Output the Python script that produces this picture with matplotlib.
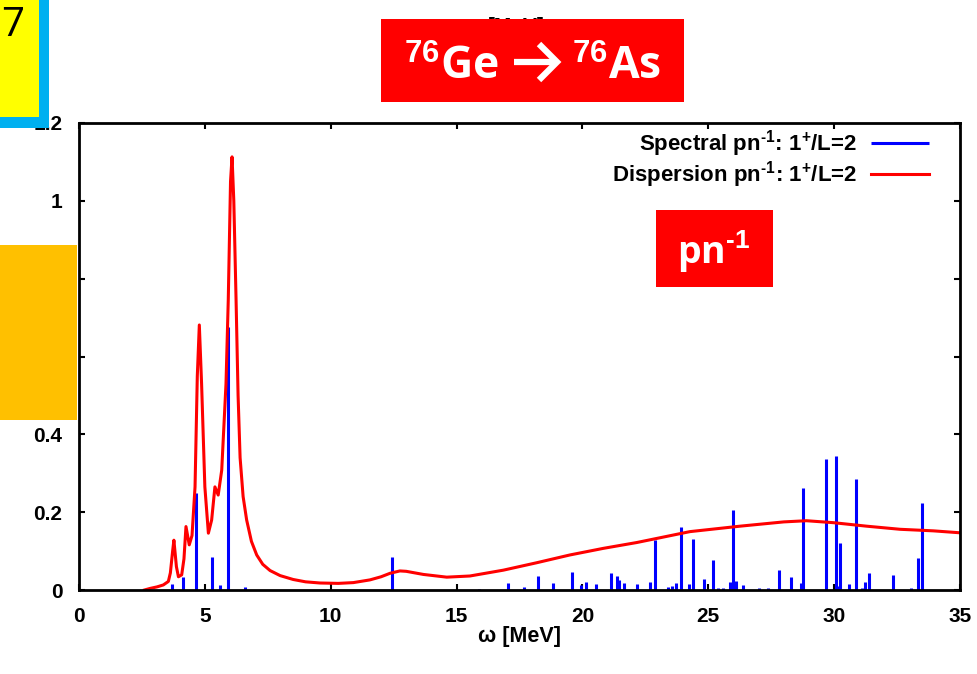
import matplotlib
matplotlib.use("Agg")
import matplotlib.pyplot as plt
from matplotlib.patches import Rectangle
from matplotlib.lines import Line2D

plt.rcParams['font.family'] = ['Liberation Sans', 'DejaVu Sans']
plt.rcParams['font.weight'] = 'bold'
plt.rcParams['mathtext.fontset'] = 'custom'
plt.rcParams['mathtext.rm'] = 'Liberation Sans:bold'
plt.rcParams['mathtext.it'] = 'Liberation Sans:bold'
plt.rcParams['mathtext.bf'] = 'Liberation Sans:bold'

# spectral strengths (discrete states), omega in MeV
spec_x = [3.68, 4.15, 4.63, 5.27, 5.59, 5.91, 6.58, 12.42, 15.91, 17.03, 17.67, 18.25,
          18.82, 19.59, 19.96, 20.13, 20.54, 21.12, 21.36, 21.44, 21.67, 22.16, 22.69,
          22.87, 23.41, 23.57, 23.72, 23.90, 24.25, 24.38, 24.84, 25.20, 25.37, 25.57,
          25.86, 25.97, 26.10, 26.37, 27.03, 27.39, 27.81, 28.29, 28.70, 28.75, 29.69,
          30.06, 30.17, 30.23, 30.59, 30.87, 31.10, 31.23, 31.40, 32.34, 33.06, 33.35,
          33.51]
spec_y = [0.015, 0.034, 0.25, 0.086, 0.013, 0.677, 0.008, 0.086, 0.003, 0.017, 0.008, 0.037,
          0.017, 0.047, 0.012, 0.021, 0.015, 0.043, 0.037, 0.026, 0.017, 0.015, 0.021,
          0.128, 0.008, 0.011, 0.019, 0.161, 0.016, 0.132, 0.027, 0.077, 0.004, 0.005,
          0.020, 0.206, 0.022, 0.012, 0.005, 0.005, 0.051, 0.034, 0.017, 0.261, 0.336,
          0.345, 0.010, 0.120, 0.015, 0.286, 0.005, 0.020, 0.043, 0.039, 0.005, 0.081,
          0.223]

# dispersion curve
disp_x = [2.6, 2.82, 3.1, 3.35, 3.55, 3.63, 3.72, 3.77, 3.87, 3.95, 4.08, 4.17, 4.25,
          4.38, 4.49, 4.61, 4.70, 4.78, 4.87, 5.0, 5.14, 5.27, 5.40, 5.53, 5.67, 5.84,
          5.93, 6.02, 6.08, 6.15, 6.24, 6.32, 6.40, 6.52, 6.66, 6.85, 7.06, 7.3, 7.59,
          7.99, 8.51, 9.0, 9.57, 10.3, 10.9, 11.56, 12.0, 12.36, 12.75, 13.0, 13.68,
          14.61, 15.53, 16.86, 18.18, 19.5, 20.83, 22.16, 24.27, 26.26, 28.0, 28.9, 29.97,
          31.29, 32.62, 33.94, 35.0]
disp_y = [0.0, 0.004, 0.008, 0.013, 0.022, 0.044, 0.1, 0.128, 0.06, 0.034, 0.039, 0.08,
          0.163, 0.116, 0.14, 0.265, 0.55, 0.681, 0.53, 0.265, 0.146, 0.18, 0.265, 0.244,
          0.308, 0.53, 0.745, 1.05, 1.113, 1.0, 0.745, 0.5, 0.34, 0.24, 0.18, 0.125,
          0.09, 0.066, 0.05, 0.037, 0.027, 0.021, 0.018, 0.017, 0.019, 0.026, 0.034,
          0.043, 0.049, 0.048, 0.04, 0.033, 0.036, 0.051, 0.07, 0.09, 0.107, 0.122, 0.15,
          0.164, 0.175, 0.178, 0.173, 0.164, 0.156, 0.152, 0.147]

xticks = [0, 5, 10, 15, 20, 25, 30, 35]
yticks = [0, 0.2, 0.4, 0.6, 0.8, 1, 1.2]
yticklabels = ['0', '0.2', '0.4', '0.6', '0.8', '1', '1.2']

W, H = 977, 674
fig = plt.figure(figsize=(W / 100, H / 100), dpi=100)
ax = fig.add_axes([79 / W, 1 - 590 / H, (960 - 79) / W, (590 - 123) / H])

ax.vlines(spec_x, 0, spec_y, colors='#0000ff', linewidth=2.2,
          label=r'Spectral pn$^{\text{-1}}$: 1$^{+}$/L=2')
ax.plot(disp_x, disp_y, color='#ff0000', linewidth=2.2,
        label=r'Dispersion pn$^{\text{-1}}$: 1$^{+}$/L=2')

ax.set_xlim(0, 35)
ax.set_ylim(0, 1.2)
ax.set_xticks(xticks)
ax.set_yticks(yticks)
ax.set_yticklabels(yticklabels)
ax.tick_params(direction='in', length=4.5, width=1.5, top=True, right=True,
               labelsize=15)
ax.tick_params(axis='x', pad=12)
ax.tick_params(axis='y', pad=12)
for s in ax.spines.values():
    s.set_linewidth(2)
ax.set_xlabel('ω [MeV]', fontsize=15.5, fontweight='bold', labelpad=0)

ax.legend(loc='upper right', bbox_to_anchor=(0.987, 1.032), frameon=False,
          markerfirst=False, fontsize=16, handlelength=2.6, handletextpad=0.63,
          labelspacing=0.0)


def px_rect(x0, y0, x1, y1, color, z=5):
    r = Rectangle((x0 / W, 1 - y1 / H), (x1 - x0) / W, (y1 - y0) / H,
                  transform=fig.transFigure, facecolor=color, edgecolor='none',
                  zorder=z)
    fig.add_artist(r)


# text of a plot above, mostly hidden behind the title box
fig.text(516 / W, 1 - 27 / H, '[MeV]', fontsize=15, fontweight='bold',
         ha='center', va='center', zorder=2)

px_rect(0, 0, 49, 128, '#00b0f0')
px_rect(0, 0, 39, 117, '#ffff00', z=6)
fig.text(1 / W, 1 - 26 / H, '7', fontsize=29, family='Open Sans',
         fontweight='normal', ha='left', va='center', zorder=7)
px_rect(0, 245, 77, 420, '#ffc000')

px_rect(381, 19, 684, 102, '#ff0000')
fig.text(499 / W, 1 - 80 / H, r'$^{76}$Ge', fontsize=32,
         family='Open Sans', fontweight='bold', color='white',
         ha='right', va='baseline', zorder=7)
fig.text(572 / W, 1 - 80 / H, r'$^{76}$As', fontsize=32,
         family='Open Sans', fontweight='bold', color='white',
         ha='left', va='baseline', zorder=7)
# arrow between the nuclei
for xs, ys in [([514, 556], [62, 62]), ([539, 557, 539], [44, 62, 80])]:
    fig.add_artist(Line2D([x / W for x in xs], [1 - y / H for y in ys],
                          transform=fig.transFigure, color='white', linewidth=4.5,
                          solid_joinstyle='miter', solid_capstyle='butt', zorder=7))

px_rect(656, 210, 773, 287, '#ff0000')
fig.text(714 / W, 1 - 252 / H, r'pn$^{\text{-1}}$', fontsize=27,
         family='Open Sans', fontweight='bold', color='white',
         ha='center', va='center', zorder=7)

fig.savefig('out.png', dpi=100)
